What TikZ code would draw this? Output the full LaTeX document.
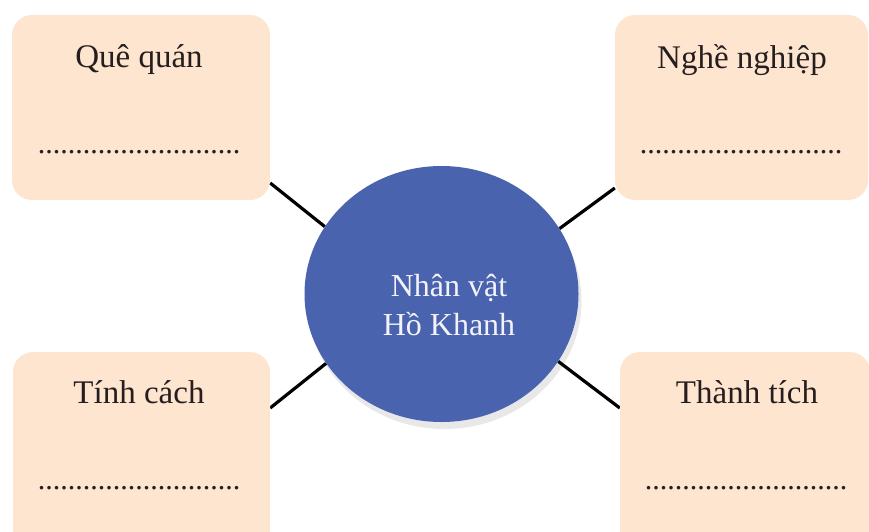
\documentclass[tikz,border=0pt]{standalone}
\usepackage{fontspec}
\setmainfont{Liberation Serif}
\usetikzlibrary{backgrounds,shadows,shapes.geometric,calc}
\definecolor{boxfill}{RGB}{253,229,208}
\definecolor{circblue}{RGB}{74,99,174}
\definecolor{ink}{RGB}{38,30,30}
\definecolor{softwhite}{RGB}{242,242,248}
\begin{document}
\begin{tikzpicture}[x=1pt,y=-1pt,
  card/.style={fill=boxfill, draw=none, rounded corners=20pt, rectangle, inner sep=0pt},
  title/.style={anchor=base, text=ink, font=\fontsize{33}{38}\selectfont, inner sep=0pt},
  dots/.style={anchor=base, text=ink, font=\fontsize{30}{36}\selectfont, inner sep=0pt},
  link/.style={draw=black, line width=3.2pt},
  hub/.style={ellipse, fill=circblue, draw=none, minimum width=274pt, minimum height=256pt, inner sep=0pt,
    drop shadow={shadow xshift=3pt, shadow yshift=-7pt, opacity=0.09, fill=black}},
  hubtext/.style={align=center, text=softwhite, font=\fontsize{32}{39}\selectfont, inner sep=0pt}]
\clip (0,0) rectangle (869,531);

\node[card, minimum width=258pt, minimum height=185pt] (tl) at (141,107.5) {};
\node[card, minimum width=253pt, minimum height=185pt] (tr) at (741.5,107.5) {};
\node[card, minimum width=257pt, minimum height=200pt] (bl) at (141.5,452) {};
\node[card, minimum width=250pt, minimum height=200pt] (br) at (745,452) {};

\node[hub] (c) at (441.5,294) {};
\node[hubtext] (ct) at (449,305) {Nhân vật\\Hồ Khanh};

\node[title] (tlt) at (139,67) {Quê quán};
\node[title] (trt) at (742,68) {Nghề nghiệp};
\node[title] (blt) at (139,403) {Tính cách};
\node[title] (brt) at (747,403) {Thành tích};

\node[dots] (tld) at (139,153) {...........................};
\node[dots] (trd) at (741,153) {...........................};
\node[dots] (bld) at (139,489) {...........................};
\node[dots] (brd) at (746,489) {...........................};

\coordinate (ptl) at ($(tl.east)+(0,75.5)$);
\coordinate (ptr) at ($(tr.west)+(0,80.5)$);
\coordinate (pbl) at ($(bl.east)+(0,-44)$);
\coordinate (pbr) at ($(br.west)+(0,-44)$);

\begin{scope}[on background layer]
  \draw[link] (c.150.5) -- (ptl);
  \draw[link] (c.29.5) -- (ptr);
  \draw[link] (c.-149.5) -- (pbl);
  \draw[link] (c.-30) -- (pbr);
\end{scope}
\end{tikzpicture}
\end{document}
